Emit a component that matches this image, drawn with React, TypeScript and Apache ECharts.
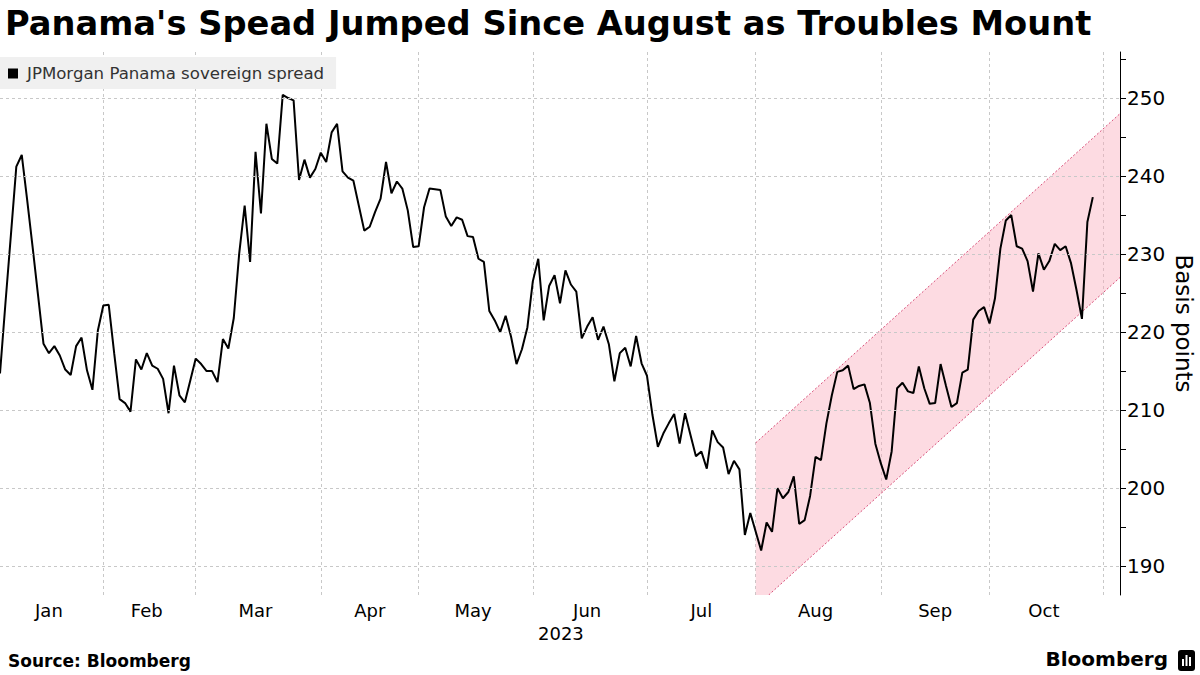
import React, { useEffect, useRef } from "react";
import * as echarts from "echarts";

// ---- Data (JPMorgan Panama sovereign spread, basis points, trading days 2023) ----
const monthNames = ["Jan", "Feb", "Mar", "Apr", "May", "Jun", "Jul", "Aug", "Sep", "Oct", "Nov"];
// trading-day slots per month shown on the axis
const monthSlots = [19, 17, 23, 18, 21, 21, 20, 23, 20, 21, 4];

const jan = [214.7, 223.7, 232.4, 241.2, 242.7, 236.9, 230.9, 224.7, 218.5, 217.3, 218.2, 217.0, 215.2, 214.5, 218.2, 219.3, 215.1, 212.6, 220.2];
const feb = [223.4, 223.5, 217.3, 211.4, 210.9, 209.8, 216.5, 215.2, 217.3, 215.7, 215.3, 214.0, 209.6, 215.7, 211.9, 211.0, 213.8];
const mar = [216.6, 215.9, 215.0, 215.0, 213.6, 219.1, 217.9, 221.8, 230.1, 236.2, 229.0, 243.1, 235.2, 246.7, 242.2, 241.6, 250.4, 250.0, 249.7, 239.5, 242.1, 239.8, 240.9];
const apr = [243.0, 241.8, 245.6, 246.7, 240.6, 239.8, 239.4, 236.2, 233.0, 233.5, 235.4, 237.1, 241.8, 237.8, 239.3, 238.4, 235.6, 230.9];
const may = [231.0, 236.0, 238.4, 238.3, 238.2, 234.8, 233.6, 234.7, 234.4, 232.3, 232.2, 229.4, 229.0, 222.7, 221.5, 220.0, 222.1, 219.4, 215.9, 217.8, 220.6];
const jun = [226.5, 229.4, 221.5, 225.9, 227.3, 223.7, 227.9, 226.1, 225.2, 219.2, 220.7, 221.9, 219.0, 220.7, 218.4, 213.7, 217.3, 218.0, 215.6, 219.5, 216.0];
const jul = [214.4, 209.4, 205.3, 207.0, 208.3, 209.5, 205.7, 209.6, 206.8, 204.1, 204.7, 202.5, 207.4, 205.9, 205.2, 201.8, 203.5, 202.4, 194.0, 196.8];
const aug = [194.4, 192.0, 195.6, 194.4, 200.0, 198.7, 199.5, 201.5, 195.4, 195.9, 199.0, 204.0, 203.6, 208.3, 211.9, 214.9, 215.1, 215.7, 212.7, 213.1, 213.3, 210.9, 205.7];
const sep = [203.2, 201.1, 204.7, 212.8, 213.5, 212.4, 212.2, 215.6, 212.8, 210.8, 210.9, 215.9, 213.1, 210.4, 210.9, 214.8, 215.2, 221.6, 222.7, 223.2];
const oct = [221.1, 224.3, 230.7, 234.3, 235.0, 231.0, 230.7, 229.1, 225.2, 230.1, 228.0, 229.1, 231.3, 230.5, 231.0, 228.8, 225.4, 221.7, 234.1, 237.3];
const nov: number[] = [];
const monthValues = [jan, feb, mar, apr, may, jun, jul, aug, sep, oct, nov];

const yLabelTicks = [190, 200, 210, 220, 230, 240, 250];
const yMinorTicks = [195, 205, 215, 225, 235, 245, 255];
const yMin = 186.3;
const yMax = 255.9;

// Trend channel drawn from the start of August to the end of the axis
const channelUpper = [205.8, 248.0];
const channelLower = [184.8, 227.0];

const seriesName = "JPMorgan Panama sovereign spread";

// ---- Build categories from the monthly arrays ----
const categories: string[] = [];
const values: (number | null)[] = [];
const monthStart: number[] = [];
monthNames.forEach((m, mi) => {
  monthStart.push(categories.length);
  for (let i = 0; i < monthSlots[mi]; i++) {
    categories.push(`${m} ${i + 1}`);
    const v = monthValues[mi][i];
    values.push(v === undefined ? null : v);
  }
});
const startSet = new Set(monthStart.filter((s) => s > 0));
const labelMap = new Map<number, string>();
for (let mi = 0; mi < monthNames.length - 1; mi++) {
  labelMap.set(Math.floor((monthStart[mi] + monthStart[mi + 1]) / 2), monthNames[mi]);
}
const channelStart = monthStart[monthNames.indexOf("Aug")];
const channelEnd = categories.length - 1;

const FONT = '"DejaVu Sans", sans-serif';

export default function App() {
  const ref = useRef<HTMLDivElement>(null);
  useEffect(() => {
    document.body.style.margin = "0";
    const chart = echarts.init(ref.current!, undefined, { renderer: "svg" });
    const allTicks = [...yLabelTicks, ...yMinorTicks].sort((a, b) => a - b);
    const option: any = {
      animation: false,
      backgroundColor: "#ffffff",
      textStyle: { fontFamily: FONT },
      grid: { left: 0, right: 80, top: 52, bottom: 80, containLabel: false, outerBoundsMode: "none" },
      legend: {
        data: [seriesName],
        left: 0,
        top: 57,
        padding: [8, 12, 7, 8],
        backgroundColor: "#f0f0f0",
        icon: "rect",
        itemWidth: 10,
        itemHeight: 10,
        selectedMode: false,
        textStyle: { fontSize: 16.6, color: "#333333", fontFamily: FONT, padding: [0, 0, 0, 4] },
      },
      xAxis: {
        type: "category",
        data: categories,
        boundaryGap: false,
        axisLine: { show: false },
        axisTick: { show: false },
        axisLabel: {
          interval: (index: number) => labelMap.has(index),
          formatter: (_v: string, index: number) => labelMap.get(index) ?? "",
          fontSize: 18,
          color: "#000000",
          fontFamily: FONT,
          margin: 6,
        },
        splitLine: {
          show: true,
          interval: (index: number) => startSet.has(index),
          lineStyle: { color: "#c8c8c8", type: [3, 3], width: 1 },
        },
      },
      yAxis: {
        type: "value",
        position: "right",
        min: yMin,
        max: yMax,
        axisLine: { show: true, lineStyle: { color: "#000000", width: 1 } },
        axisTick: { show: true, length: 6, customValues: allTicks, lineStyle: { color: "#000000" } },
        axisLabel: {
          customValues: yLabelTicks,
          formatter: (v: number) => String(Math.round(v)),
          fontSize: 20,
          color: "#000000",
          fontFamily: FONT,
          margin: 7,
        },
        splitLine: { show: false },
        name: "Basis points",
        nameLocation: "middle",
        nameRotate: -90,
        nameGap: 52,
        nameMoveOverlap: false,
        nameTextStyle: { fontSize: 23, color: "#000000", fontFamily: FONT },
      },
      series: [
        {
          name: "gridlines",
          type: "line",
          data: categories.map(() => null),
          z: 1,
          silent: true,
          symbol: "none",
          markLine: {
            silent: true,
            symbol: "none",
            label: { show: false },
            lineStyle: { color: "#c8c8c8", type: [3, 3], width: 1 },
            data: yLabelTicks.map((t) => ({ yAxis: t })),
          },
        },
        {
          name: "channel",
          type: "custom",
          z: 2,
          silent: true,
          clip: true,
          data: [
            [channelStart, channelUpper[0]],
            [channelEnd, channelUpper[1]],
          ],
          renderItem: (params: any, api: any) => {
            if (params.dataIndex !== 0) return null;
            const cs = params.coordSys;
            const bottom = cs.y + cs.height;
            const u0 = api.coord([channelStart, channelUpper[0]]);
            const u1 = api.coord([channelEnd, channelUpper[1]]);
            const l0 = api.coord([channelStart, channelLower[0]]);
            const l1 = api.coord([channelEnd, channelLower[1]]);
            let polyPts: number[][];
            let lowerLine: number[][];
            if (l0[1] > bottom) {
              const t = (bottom - l0[1]) / (l1[1] - l0[1]);
              const cross = [l0[0] + t * (l1[0] - l0[0]), bottom];
              polyPts = [u0, u1, l1, cross, [l0[0], bottom]];
              lowerLine = [cross, l1];
            } else {
              polyPts = [u0, u1, l1, l0];
              lowerLine = [l0, l1];
            }
            const edge = { stroke: "#d9507a", lineWidth: 1, lineDash: [2, 2], fill: null };
            return {
              type: "group",
              children: [
                { type: "polygon", shape: { points: polyPts }, style: { fill: "rgba(250,170,185,0.42)" } },
                { type: "polyline", shape: { points: [u0, u1] }, style: edge },
                { type: "polyline", shape: { points: lowerLine }, style: edge },
              ],
            };
          },
        },
        {
          name: seriesName,
          type: "line",
          data: values,
          z: 3,
          symbol: "none",
          color: "#000000",
          lineStyle: { color: "#000000", width: 2 },
          connectNulls: false,
        },
      ],
      graphic: [
        {
          type: "text",
          left: 5,
          top: 6,
          style: {
            text: "Panama's Spead Jumped Since August as Troubles Mount",
            font: `bold 33.7px ${FONT}`,
            fill: "#000000",
          },
        },
        {
          type: "text",
          left: 538,
          top: 624,
          style: { text: "2023", font: `18px ${FONT}`, fill: "#000000" },
        },
        {
          type: "text",
          left: 8,
          top: 652,
          style: { text: "Source: Bloomberg", font: `bold 17px ${FONT}`, fill: "#000000" },
        },
        {
          type: "text",
          right: 32,
          top: 649,
          style: { text: "Bloomberg", font: `bold 20px ${FONT}`, fill: "#000000" },
        },
        {
          type: "group",
          right: 5,
          top: 650,
          children: [
            { type: "rect", shape: { x: 0, y: 0, width: 17, height: 21, r: 3 }, style: { fill: "#000000" } },
            { type: "rect", shape: { x: 4, y: 9, width: 2, height: 7 }, style: { fill: "#ffffff" } },
            { type: "rect", shape: { x: 7.5, y: 5, width: 2, height: 11 }, style: { fill: "#ffffff" } },
            { type: "rect", shape: { x: 11, y: 7, width: 2, height: 9 }, style: { fill: "#ffffff" } },
          ],
        },
      ],
    };
    chart.setOption(option);
    return () => chart.dispose();
  }, []);
  return <div ref={ref} style={{ width: 1200, height: 675 }} />;
}
